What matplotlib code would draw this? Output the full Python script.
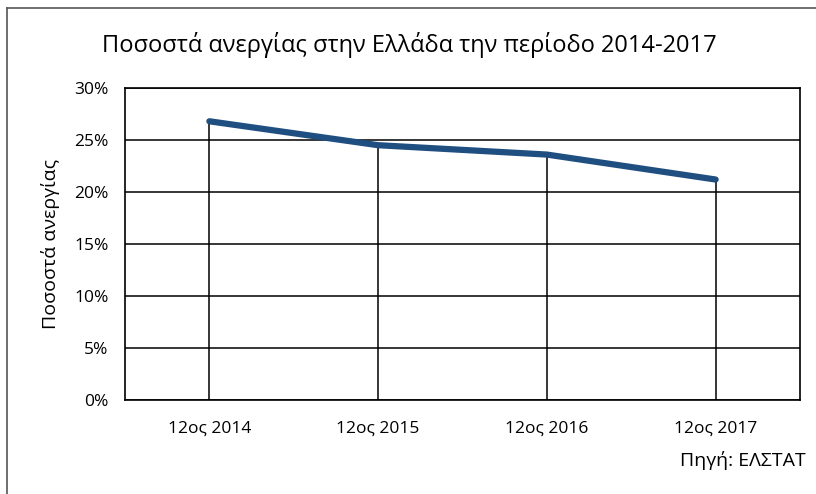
import matplotlib.pyplot as plt
from matplotlib.lines import Line2D
import numpy as np

plt.rcParams['font.family'] = ['Open Sans', 'DejaVu Sans']

categories = ['12ος 2014', '12ος 2015', '12ος 2016', '12ος 2017']
rates = [26.8, 24.5, 23.6, 21.2]
yticks = [0, 5, 10, 15, 20, 25, 30]

fig = plt.figure(figsize=(8.16, 4.94), dpi=100)
ax = fig.add_axes([125 / 816, 1 - 400 / 494, 675 / 816, 312 / 494])

x = np.arange(len(categories))

# drop lines from each point down to zero
ax.vlines(x, 0, rates, colors='black', linewidth=1.1, zorder=2)
ax.plot(x, rates, color='#1F4E80', linewidth=4.5, solid_capstyle='round', zorder=3)

ax.set_xlim(-0.5, len(categories) - 0.5)
ax.set_ylim(0, 30)
ax.set_yticks(yticks)
ax.set_yticklabels([f'{v}%' for v in yticks], fontsize=12.5)
ax.set_xticks(x)
ax.set_xticklabels(categories, fontsize=12.5)
ax.tick_params(length=0, pad=15)
ax.tick_params(axis='y', pad=12)
ax.grid(axis='y', color='black', linewidth=1.1, zorder=1)
for s in ax.spines.values():
    s.set_linewidth(1.2)

ax.set_ylabel('Ποσοστά ανεργίας', fontsize=14, labelpad=10)

fig.text(409 / 816, 1 - 45 / 494, 'Ποσοστά ανεργίας στην Ελλάδα την περίοδο 2014-2017',
         ha='center', va='center', fontsize=17)
fig.text(806 / 816, 1 - 460 / 494, 'Πηγή: ΕΛΣΤΑΤ', ha='right', va='center', fontsize=14)

# outer frame (left and top edges visible)
fig.add_artist(Line2D([7 / 816, 7 / 816], [0, 1 - 8 / 494], color='#555555', linewidth=1.2))
fig.add_artist(Line2D([7 / 816, 1], [1 - 8 / 494, 1 - 8 / 494], color='#555555', linewidth=1.2))

fig.savefig('out.png', dpi=100)
